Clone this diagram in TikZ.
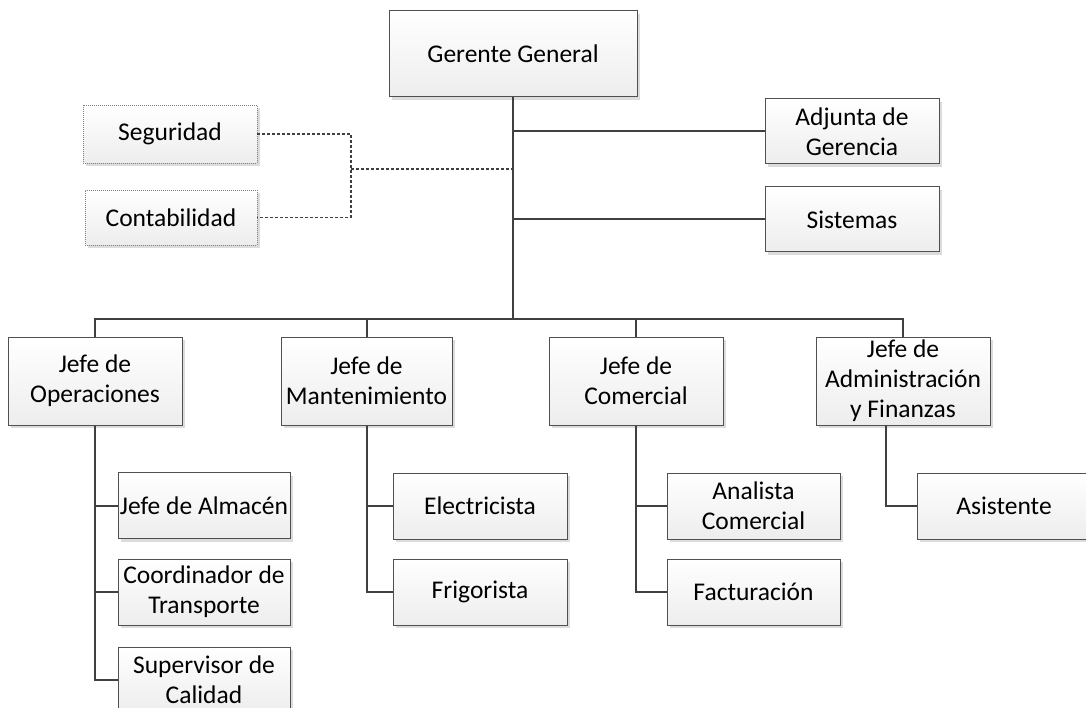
\documentclass[tikz,border=0pt]{standalone}
\usepackage{fontspec}
\setmainfont{Carlito}
\usetikzlibrary{shadows}
\definecolor{linec}{HTML}{404040}
\definecolor{boxc}{HTML}{505050}
\definecolor{shadc}{HTML}{DCDCDC}
\begin{document}
\begin{tikzpicture}[x=1pt,y=-1pt,
  orgbox/.style={rectangle, draw=boxc, line width=1pt, top color=white, bottom color=black!7,
     inner sep=0pt, align=center, font=\fontsize{25.5}{30}\selectfont,
     minimum width=174pt, minimum height=66pt,
     drop shadow={shadow xshift=3pt, shadow yshift=-3pt, fill=shadc, opacity=1}},
  staffbox/.style={orgbox, draw=gray, densely dotted, line width=0.8pt},
  conn/.style={draw=linec, line width=2pt},
  dconn/.style={draw=linec, line width=1.5pt, dash pattern=on 3pt off 2pt}]
\useasboundingbox (0,0) rectangle (1086,708);
\clip (0,0) rectangle (1086,708);
% top level
\node[orgbox, minimum width=248pt, minimum height=86pt] (gg) at (513,54) {Gerente General};
\node[orgbox, minimum height=65pt] (adj) at (852,131.5) {Adjunta de\\Gerencia};
\node[orgbox, minimum height=65pt] (sis) at (852,219.5) {Sistemas};
\node[staffbox, minimum height=58pt] (seg) at (170,134) {Seguridad};
\node[staffbox, minimum width=172pt, minimum height=55pt] (con) at (171,217.5) {Contabilidad};
% second level
\node[orgbox, minimum height=88pt] (ops) at (95,381) {Jefe de\\Operaciones};
\node[orgbox, minimum width=171pt, minimum height=88pt] (man) at (366.5,381) {Jefe de\\Mantenimiento};
\node[orgbox, minimum height=88pt] (com) at (636,381) {Jefe de\\Comercial};
\node[orgbox, minimum height=88pt] (adm) at (903,381) {Jefe de\\Administración\\y Finanzas};
% third level
\node[orgbox, minimum width=172pt] (alm) at (204,505.5) {Jefe de Almacén};
\node[orgbox, minimum width=172pt] (coo) at (204,592) {Coordinador de\\Transporte};
\node[orgbox, minimum width=172pt] (sup) at (204,680) {Supervisor de\\Calidad};
\node[orgbox] (ele) at (480,506) {Electricista};
\node[orgbox] (fri) at (480,592) {Frigorista};
\node[orgbox, minimum width=173pt] (ana) at (753.5,506) {Analista\\Comercial};
\node[orgbox, minimum width=173pt] (fac) at (753.5,592) {Facturación};
\node[orgbox] (asi) at (1004,506) {Asistente};
% coordinates
\coordinate (bus) at (513,319);
\coordinate (dj) at (351,169);
\coordinate (ak) at (886,425);
% connectors
\draw[conn] (gg.south) -- (bus);
\draw[conn] (gg.south |- adj.west) -- (adj.west);
\draw[conn] (gg.south |- sis.west) -- (sis.west);
\draw[conn] (ops.north) |- (bus) -| (adm.north);
\draw[conn] (man.north) -- (man.north |- bus);
\draw[conn] (com.north) -- (com.north |- bus);
\draw[conn] (ops.south) |- (alm.west);
\draw[conn] (ops.south) |- (coo.west);
\draw[conn] (ops.south) |- (sup.west);
\draw[conn] (man.south) |- (ele.west);
\draw[conn] (man.south) |- (fri.west);
\draw[conn] (com.south) |- (ana.west);
\draw[conn] (com.south) |- (fac.west);
\draw[conn] (ak) |- (asi.west);
\draw[dconn] (seg.east) -| (dj) |- (con.east);
\draw[dconn] (dj) -- (dj -| gg.south);
\end{tikzpicture}
\end{document}
